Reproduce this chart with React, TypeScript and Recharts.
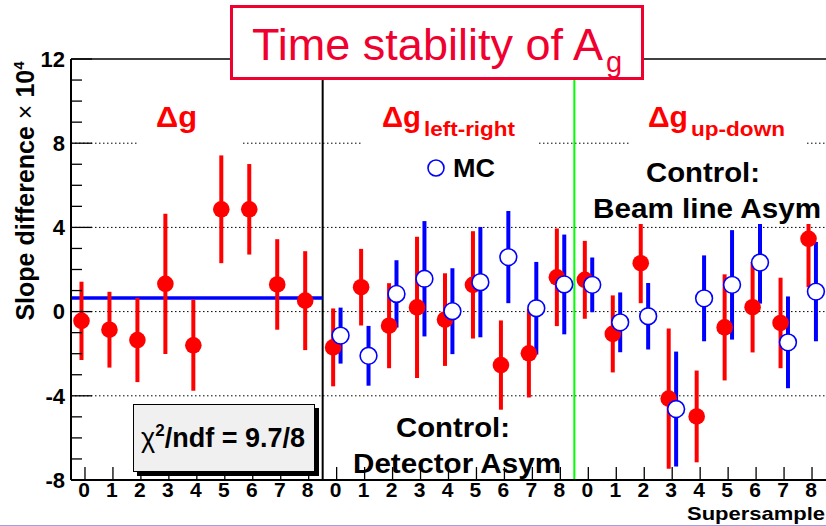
import React from 'react';
import { ComposedChart, Scatter, ErrorBar, XAxis, YAxis, ReferenceLine } from 'recharts';

// ---- data ----
const supersamples = ['0', '1', '2', '3', '4', '5', '6', '7', '8'];
const sectionLabels = ['Δg', 'left-right', 'up-down'];

// measured asymmetry differences (red, filled) for 3 sections x 9 supersamples
const dataValues = [
  -0.44, -0.86, -1.35, 1.32, -1.6, 4.86, 4.86, 1.29, 0.52,
  -1.7, 1.16, -0.67, 0.2, -0.38, 1.27, -2.54, -1.98, 1.63,
  1.51, -1.06, 2.3, -4.13, -4.98, -0.75, 0.21, -0.54, 3.46,
];
const dataErrors = [
  1.86, 1.8, 2.0, 3.33, 2.16, 2.56, 2.15, 2.15, 2.35,
  1.85, 1.82, 2.02, 3.35, 2.2, 2.55, 2.12, 2.1, 2.32,
  1.85, 1.83, 1.9, 3.33, 2.18, 2.52, 2.15, 2.15, 2.3,
];
// MC (blue, open) only for the control sections
const mcValues: (number | null)[] = [
  null, null, null, null, null, null, null, null, null,
  -1.14, -2.1, 0.84, 1.56, 0.02, 1.4, 2.59, 0.16, 1.29,
  1.27, -0.51, -0.22, -4.63, 0.63, 1.27, 2.33, -1.46, 0.95,
];
const mcErrors: (number | null)[] = [
  null, null, null, null, null, null, null, null, null,
  1.33, 1.42, 1.6, 2.74, 2.04, 2.62, 2.19, 2.2, 2.37,
  1.3, 1.42, 1.58, 2.73, 2.04, 2.6, 1.95, 2.18, 2.36,
];
const fitValue = 0.65;
const chi2Label = '9.7/8';
const yTicks = [-8, -7, -6, -5, -4, -3, -2, -1, 0, 1, 2, 3, 4, 5, 6, 7, 8, 9, 10, 11, 12];
const gridValues = [8, 4, 0, -4];

// ---- derived ----
const nBins = dataValues.length;
const RED_SHIFT = -0.125;
const BLUE_SHIFT = 0.14;
const redPoints = dataValues.map((v, i) => ({ x: i + 0.5 + RED_SHIFT, y: v, err: dataErrors[i] }));
const mcPoints = mcValues
  .map((v, i) => (v == null ? null : { x: i + 0.5 + BLUE_SHIFT, y: v, err: mcErrors[i] }))
  .filter((p) => p !== null) as { x: number; y: number; err: number }[];
const xTicks = dataValues.map((_, i) => i + 0.5);

const FONT = '"Liberation Sans", Arial, Helvetica, sans-serif';
const TITLE_RED = '#f0002e';

const YTick = (props: any) => {
  const { x, y, payload } = props;
  const v = payload.value;
  const major = v % 4 === 0;
  return (
    <g>
      <line x1={x} x2={x + (major ? 21 : 11)} y1={y} y2={y} stroke="#000" strokeWidth={1.3} />
      {major && (
        <text x={x - 6} y={y} dy="0.35em" textAnchor="end" fontSize={22} fontWeight="bold" fontFamily={FONT} fill="#000">
          {v}
        </text>
      )}
    </g>
  );
};

const XTick = (props: any) => {
  const { x, y, payload } = props;
  const label = supersamples[Math.floor(payload.value) % supersamples.length];
  return (
    <g>
      <line x1={x} x2={x} y1={y} y2={y - 13} stroke="#000" strokeWidth={1.3} />
      <text x={x - 1} y={y + 17} textAnchor="middle" fontSize={21} fontWeight="bold" fontFamily={FONT} fill="#000">
        {label}
      </text>
    </g>
  );
};

const RedDot = (p: any) => <circle cx={p.cx} cy={p.cy} r={8.3} fill="#ff0000" />;
const BlueRing = (p: any) => <circle cx={p.cx} cy={p.cy} r={8.4} fill="#fff" stroke="#0000ff" strokeWidth={1.6} />;

export default function App() {
  return (
    <div style={{ position: 'fixed', left: 0, top: 0, width: 826, height: 526, background: '#fff', overflow: 'hidden' }}>
      <ComposedChart width={826} height={526} margin={{ top: 59, right: 0, bottom: 0, left: 0 }}>
        <XAxis
          type="number"
          dataKey="x"
          domain={[0, nBins]}
          ticks={xTicks}
          interval={0}
          tick={<XTick />}
          tickLine={false}
          tickSize={0}
          tickMargin={0}
          height={46}
          axisLine={{ stroke: '#000', strokeWidth: 2 }}
          allowDataOverflow
        />
        <YAxis
          type="number"
          dataKey="y"
          domain={[-8, 12]}
          ticks={yTicks}
          interval={0}
          tick={<YTick />}
          tickLine={false}
          tickSize={0}
          tickMargin={0}
          width={71}
          axisLine={{ stroke: '#000', strokeWidth: 2 }}
          allowDataOverflow
        />
        {gridValues.map((g) => (
          <ReferenceLine key={g} y={g} stroke="#000" strokeWidth={1} strokeDasharray="1.5 2.5" />
        ))}
        <ReferenceLine y={12} stroke="#000" strokeWidth={1.5} />
        <ReferenceLine x={9} stroke="#000" strokeWidth={2} />
        <ReferenceLine x={18} stroke="#00ff00" strokeWidth={2} />
        <ReferenceLine
          segment={[
            { x: 0, y: fitValue },
            { x: 9, y: fitValue },
          ]}
          stroke="#0000ff"
          strokeWidth={3.5}
        />
        <Scatter data={redPoints} dataKey="y" fill="#ff0000" shape={<RedDot />} isAnimationActive={false}>
          <ErrorBar dataKey="err" direction="y" width={0} stroke="#ff0000" strokeWidth={4} />
        </Scatter>
        <Scatter data={mcPoints} dataKey="y" fill="#0000ff" shape={<BlueRing />} isAnimationActive={false}>
          <ErrorBar dataKey="err" direction="y" width={0} stroke="#0000ff" strokeWidth={4} />
        </Scatter>
      </ComposedChart>

      <svg width={826} height={526} style={{ position: 'absolute', left: 0, top: 0, pointerEvents: 'none' }} fontFamily={FONT}>
        {/* title */}
        <rect x={231.5} y={6.5} width={411} height={72} fill="#fff" stroke={TITLE_RED} strokeWidth={3} />
        <text x={252} y={60} fontSize={44} fill={TITLE_RED} textLength={351} lengthAdjust="spacingAndGlyphs">
          Time stability of A
        </text>
        <text x={606} y={72} fontSize={29} fill={TITLE_RED}>g</text>

        {/* section labels */}
        <rect x={137} y={95} width={106} height={54} fill="#fff" />
        <text x={156} y={127} fontSize={30} fontWeight="bold" fill="#ff0000" textLength={41} lengthAdjust="spacingAndGlyphs">
          {sectionLabels[0]}
        </text>
        <rect x={363} y={95} width={175} height={54} fill="#fff" />
        <text x={382} y={127} fontSize={30} fontWeight="bold" fill="#ff0000" textLength={39} lengthAdjust="spacingAndGlyphs">
          {sectionLabels[0]}
        </text>
        <text x={424} y={136} fontSize={21} fontWeight="bold" fill="#ff0000" textLength={91} lengthAdjust="spacingAndGlyphs">
          {sectionLabels[1]}
        </text>
        <rect x={629} y={95} width={176} height={54} fill="#fff" />
        <text x={648} y={127} fontSize={30} fontWeight="bold" fill="#ff0000" textLength={40} lengthAdjust="spacingAndGlyphs">
          {sectionLabels[0]}
        </text>
        <text x={691} y={136} fontSize={21} fontWeight="bold" fill="#ff0000" textLength={94} lengthAdjust="spacingAndGlyphs">
          {sectionLabels[2]}
        </text>

        {/* MC legend */}
        <circle cx={436} cy={168} r={8} fill="#fff" stroke="#0000ff" strokeWidth={1.6} />
        <text x={453} y={177} fontSize={26} fontWeight="bold" fill="#000" textLength={42} lengthAdjust="spacingAndGlyphs">MC</text>

        {/* control: beam line */}
        <rect x={588} y={150} width={238} height={74} fill="#fff" />
        <text x={646} y={182} fontSize={28} fontWeight="bold" fill="#000" textLength={114} lengthAdjust="spacingAndGlyphs">Control:</text>
        <text x={593} y={218} fontSize={28} fontWeight="bold" fill="#000" textLength={228} lengthAdjust="spacingAndGlyphs">Beam line Asym</text>

        {/* control: detector */}
        <text x={396} y={437} fontSize={28} fontWeight="bold" fill="#000" textLength={114} lengthAdjust="spacingAndGlyphs">Control:</text>
        <text x={353} y={473} fontSize={28} fontWeight="bold" fill="#000" textLength={208} lengthAdjust="spacingAndGlyphs">Detector Asym</text>

        {/* chi2 box */}
        <rect x={137} y={408} width={182} height={68} fill="#000" />
        <rect x={133.5} y={404.5} width={181} height={67} fill="#f0f0f0" stroke="#000" strokeWidth={1} />
        <text x={141} y={447} fontSize={27} fill="#000">
          <tspan fontWeight="normal">χ</tspan>
          <tspan dy={-11} fontSize={17} fontWeight="bold">2</tspan>
          <tspan dy={11} fontWeight="bold">{'/ndf = ' + chi2Label}</tspan>
        </text>

        {/* axis titles */}
        <text transform="translate(34,191) rotate(-90)" textAnchor="middle" fontSize={25} fontWeight="bold" fill="#000">
          Slope difference <tspan fontWeight="normal">×</tspan> 10
          <tspan dy={-10} fontSize={15}>4</tspan>
        </text>
        <text x={825} y={520} textAnchor="end" fontSize={19} fontWeight="bold" fill="#000" textLength={138} lengthAdjust="spacingAndGlyphs">Supersample</text>

        <line x1={0} x2={826} y1={525.5} y2={525.5} stroke="#a0a0e8" strokeWidth={1} />
      </svg>
    </div>
  );
}
